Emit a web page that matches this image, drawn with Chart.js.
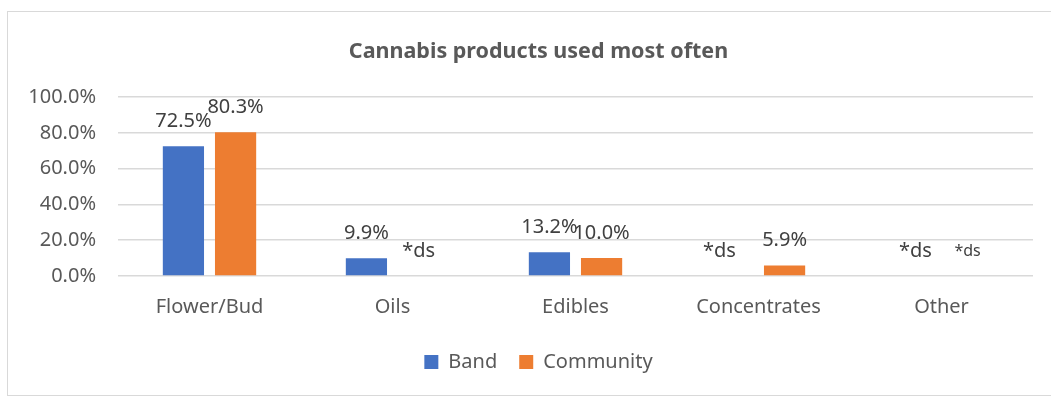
<!DOCTYPE html>
<html>
<head>
<meta charset="utf-8">
<title>Cannabis products used most often</title>
<script src="https://cdn.jsdelivr.net/npm/chart.js@4.4.0/dist/chart.umd.min.js"></script>
<style>
  html, body { margin: 0; padding: 0; background: #fff; overflow: hidden; }
  #wrap { position: relative; width: 1051px; height: 398px; }
  #frame {
    position: absolute; left: 7px; top: 11px; width: 1060px; height: 385px;
    border: 1px solid #d9d9d9; box-sizing: border-box;
  }
  canvas { position: absolute; left: 0; top: 0; }
</style>
</head>
<body>
<div id="wrap">
  <div id="frame"></div>
  <canvas id="productsChart" width="1051" height="398"></canvas>
</div>
<script>
// Survey results, percent of respondents
const categories = ['Flower/Bud', 'Oils', 'Edibles', 'Concentrates', 'Other'];
const bandValues = [72.5, 9.9, 13.2, null, null];
const communityValues = [80.3, null, 10.0, 5.9, null];
const yTicks = [0, 20, 40, 60, 80, 100];

// null = suppressed (small cell size)
const SUPPRESSED = '*ds';
const FONT = '"Noto Sans", "Open Sans", sans-serif';
const TEXT = '#595959';

// Draws the value above each bar, or the suppression mark for missing ones
const valueLabels = {
  id: 'valueLabels',
  afterDatasetsDraw(chart) {
    const ctx = chart.ctx;
    const y0 = chart.scales.y.getPixelForValue(0);
    ctx.save();
    ctx.textAlign = 'center';
    ctx.textBaseline = 'middle';
    ctx.fillStyle = '#404040';
    chart.data.datasets.forEach((ds, di) => {
      chart.getDatasetMeta(di).data.forEach((bar, i) => {
        const v = ds.data[i];
        let x = bar.x;
        if (v === null && di === 0 && i === 3) x -= 13; // concentrates mark sits left
        // the last community mark is set in a smaller size
        const small = v === null && di === 1 && i === 4;
        ctx.font = `${small ? 16 : 20}px ${FONT}`;
        const top = v === null ? y0 : bar.y;
        ctx.fillText(v === null ? SUPPRESSED : v.toFixed(1) + '%', x, top - 25);
      });
    });
    ctx.restore();
  }
};

// Title and legend are centred a bit right of the plot box
const centreShift = {
  id: 'centreShift',
  afterLayout(chart) {
    chart.titleBlock.left += 17;
    chart.titleBlock.right += 17;
    chart.legend.left += 17;
    chart.legend.right += 17;
  }
};

new Chart(document.getElementById('productsChart'), {
  type: 'bar',
  data: {
    labels: categories,
    datasets: [
      { label: 'Band', data: bandValues, backgroundColor: '#4472C4' },
      { label: 'Community', data: communityValues, backgroundColor: '#ED7D31' }
    ]
  },
  options: {
    responsive: false,
    animation: false,
    categoryPercentage: 0.57,
    barPercentage: 0.79,
    layout: { padding: { left: 10, right: 18, top: 0, bottom: 16 } },
    plugins: {
      title: {
        display: true,
        text: 'Cannabis products used most often',
        color: TEXT,
        font: { family: FONT, size: 21.5, weight: 'bold' },
        padding: { top: 38.5, bottom: 32.7 }
      },
      legend: {
        position: 'bottom',
        labels: {
          color: TEXT,
          font: { family: FONT, size: 20 },
          boxWidth: 14,
          boxHeight: 14,
          padding: 22
        }
      },
      tooltip: { enabled: false }
    },
    scales: {
      x: {
        grid: { display: false },
        border: { display: false },
        ticks: { color: TEXT, font: { family: FONT, size: 20 }, padding: 11 },
        afterFit(scale) { scale.height = 54; }
      },
      y: {
        min: 0,
        max: 100,
        afterBuildTicks(scale) { scale.ticks = yTicks.map(v => ({ value: v })); },
        grid: { color: '#d9d9d9', lineWidth: 1.5, drawTicks: false },
        border: { display: false },
        ticks: {
          color: TEXT,
          font: { family: FONT, size: 20 },
          padding: 22,
          callback: v => v.toFixed(1) + '%'
        },
        afterFit(scale) { scale.width = 108; }
      }
    }
  },
  plugins: [valueLabels, centreShift]
});
</script>
</body>
</html>
